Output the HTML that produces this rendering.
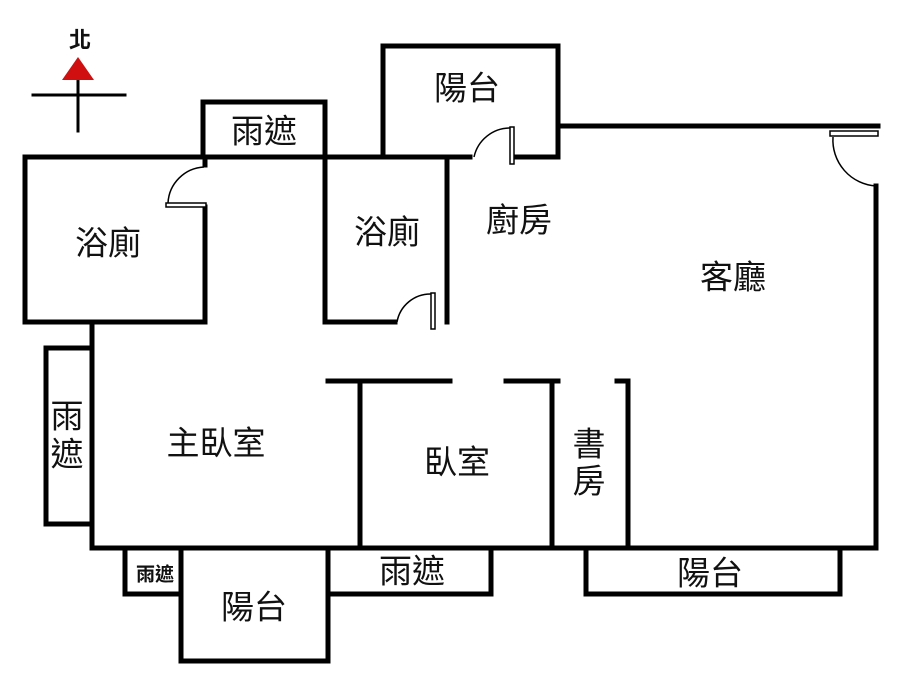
<!DOCTYPE html>
<html><head><meta charset="utf-8"><style>
html,body{margin:0;padding:0;background:#fff;}
svg{display:block}
text{font-family:"Liberation Sans","Noto Sans CJK TC",sans-serif;fill:#111;text-anchor:middle;dominant-baseline:central;font-size:33px;}
</style></head><body>
<svg width="900" height="675" viewBox="0 0 900 675">
<g fill="none" stroke="#000" stroke-width="5" stroke-linecap="square">
<line x1="33" y1="95" x2="125" y2="95" stroke-width="3"/>
<line x1="78" y1="78" x2="78" y2="131" stroke-width="3"/>
<polyline points="203,157 203,102 325,102 325,157"/>
<polyline points="383,157 383,46 558,46 558,157"/>
<polyline points="205,165 205,157 25,157 25,322 205,322 205,207"/>
<line x1="205" y1="157" x2="470" y2="157"/>
<polyline points="514,157 558,157 558,126 878,126"/>
<polyline points="325,157 325,322 395,322"/>
<line x1="447" y1="157" x2="447" y2="322"/>
<polyline points="92,322 92,548 876,548 876,186"/>
<polyline points="92,348 46,348 46,524 92,524"/>
<line x1="328" y1="381" x2="450" y2="381"/>
<line x1="360" y1="381" x2="360" y2="548"/>
<line x1="506" y1="381" x2="558" y2="381"/>
<line x1="552" y1="381" x2="552" y2="548"/>
<line x1="617" y1="381" x2="628" y2="381"/>
<line x1="628" y1="381" x2="628" y2="548"/>
<polyline points="125,548 125,594 181,594"/>
<polyline points="181,548 181,661 328,661 328,548"/>
<polyline points="328,594 491,594 491,548"/>
<polyline points="586,548 586,594 840,594 840,548"/>
</g>
<g fill="none" stroke="#000" stroke-width="1.5">
<rect x="166" y="203" width="40" height="4" fill="#fff"/>
<path d="M168,203 A38,38 0 0 1 204,167"/>
<rect x="510" y="127" width="4" height="37" fill="#fff"/>
<path d="M474,157 A37,37 0 0 1 510,128"/>
<rect x="431" y="293" width="4" height="36" fill="#fff"/>
<path d="M397,322 A34,34 0 0 1 431,294"/>
<rect x="830" y="131" width="48" height="5" fill="#fff"/>
<path d="M833,137 A46,46 0 0 0 876,186"/>
</g>
<polygon points="78,57 62,80 94,80" fill="#d01010"/>
<text x="80" y="40" style="font-size:22px;font-weight:bold">北</text>
<text x="467" y="88">陽台</text>
<text x="264" y="131">雨遮</text>
<text x="108" y="243">浴廁</text>
<text x="387" y="232">浴廁</text>
<text x="519" y="220">廚房</text>
<text x="733" y="277">客廳</text>
<text x="67" y="416">雨</text>
<text x="67" y="454">遮</text>
<text x="216" y="443">主臥室</text>
<text x="457" y="462">臥室</text>
<text x="589" y="444">書</text>
<text x="589" y="481">房</text>
<text x="155" y="575" style="font-size:19px;font-weight:bold">雨遮</text>
<text x="254" y="607">陽台</text>
<text x="412" y="571">雨遮</text>
<text x="710" y="573">陽台</text>
</svg>
</body></html>
